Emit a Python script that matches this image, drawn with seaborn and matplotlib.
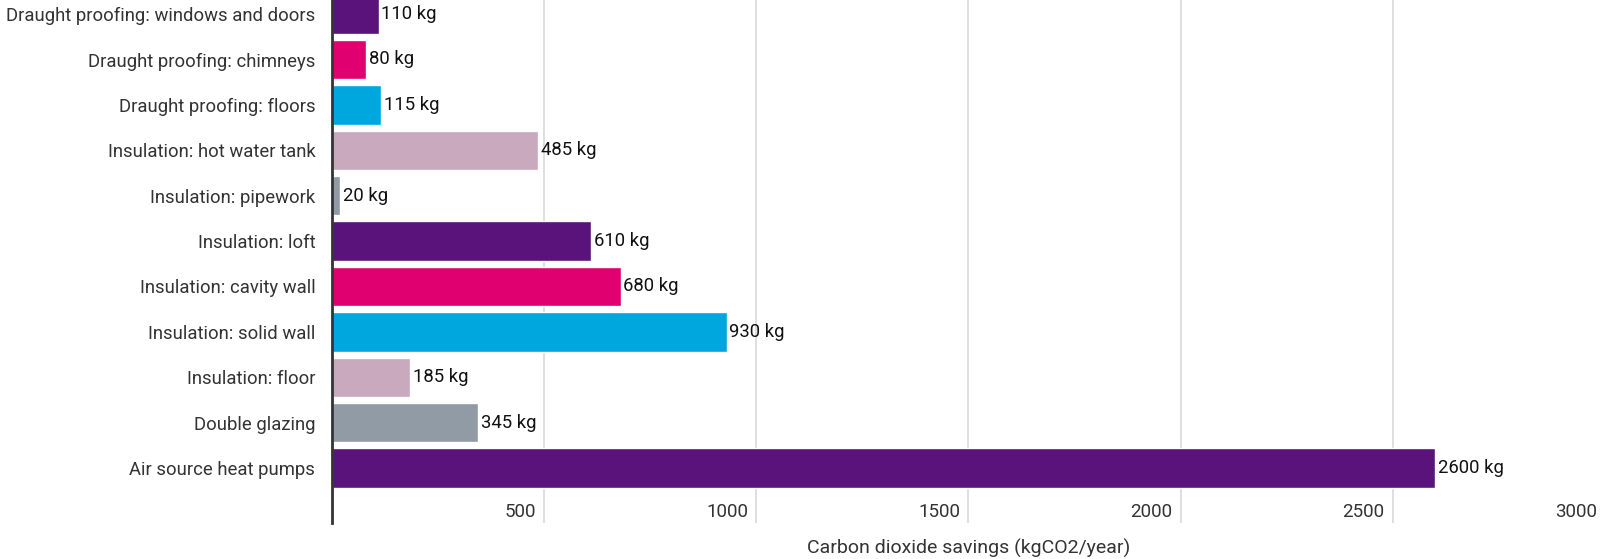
import pandas as pd
import seaborn as sns
import matplotlib.pyplot as plt
import matplotlib.transforms as mtransforms

# data
measures = ['Draught proofing: windows and doors', 'Draught proofing: chimneys',
            'Draught proofing: floors', 'Insulation: hot water tank',
            'Insulation: pipework', 'Insulation: loft', 'Insulation: cavity wall',
            'Insulation: solid wall', 'Insulation: floor', 'Double glazing',
            'Air source heat pumps']
savings = [110, 80, 115, 485, 20, 610, 680, 930, 185, 345, 2600]
bar_colors = ['#59137a', '#e0006f', '#00a7de', '#c8a9bd', '#919ba5',
              '#59137a', '#e0006f', '#00a7de', '#c8a9bd', '#919ba5',
              '#59137a']
x_ticks = [500, 1000, 1500, 2000, 2500, 3000]

df = pd.DataFrame({'measure': measures, 'saving': savings})

sns.set_style('white')
plt.rcParams['font.family'] = ['Roboto', 'DejaVu Sans']

fig = plt.figure(figsize=(16, 5.59), dpi=100)
# the plot area runs past the right edge of the image, as in the original
ax = fig.add_axes([0.2075, 0.0644, 0.7956, 0.9356])

sns.barplot(data=df, y='measure', x='saving', hue='measure', palette=bar_colors,
            orient='h', width=0.87, legend=False, ax=ax, saturation=1)

ax.set_xlim(0, 3000)
ax.set_ylim(11.21, -0.31)

# grid
for t in x_ticks:
    ax.axvline(t, color='#d9d9d9', lw=1.2, zorder=0)

# value labels
for c in ax.containers:
    ax.bar_label(c, labels=[f'{v:.0f} kg' for v in c.datavalues], padding=2,
                 fontsize=13.3, color='#111111')

# x tick labels sit inside the axes, right-aligned to grid lines
ax.set_xticks([])
trans = mtransforms.blended_transform_factory(ax.transData, ax.transAxes)
for t in x_ticks:
    ax.text(t - 19, 0.021, str(t), transform=trans, ha='right', va='center',
            fontsize=13.5, color='#333333')

ax.set_yticks(range(len(measures)))
ax.set_yticklabels(measures, fontsize=13.3, color='#333333')
ax.tick_params(axis='y', length=0, pad=12)
ax.set_ylabel('')
ax.set_xlabel('Carbon dioxide savings (kgCO2/year)', fontsize=14, color='#333333',
              va='center')
ax.xaxis.set_label_coords(0.5, -0.048)

for s in ['top', 'right', 'bottom']:
    ax.spines[s].set_visible(False)
ax.spines['left'].set_color('#333333')
ax.spines['left'].set_linewidth(2)

fig.savefig('out.png', dpi=100)
